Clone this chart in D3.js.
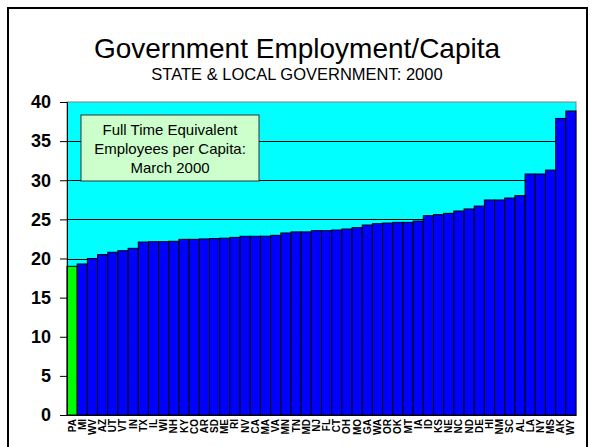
<!DOCTYPE html>
<html>
<head>
<meta charset="utf-8">
<script src="https://d3js.org/d3.v7.min.js"></script>
<style>
  body { margin: 0; background: #fff; }
  text { font-family: "Liberation Sans", Arial, sans-serif; }
</style>
</head>
<body>
<div id="chart"></div>
<script>
var states = ["PA","MI","WV","AZ","UT","VT","IN","TX","IL","WI","NH","KY","CO","AR","SD","ME",
    "RI","NV","CA","MA","VA","MN","TN","MD","NJ","FL","CT","OH","MO","GA","WA","OR","OK","MT",
    "IA","ID","KS","NE","NC","ND","DE","HI","NM","SC","AL","LA","NY","MS","AK","WY"];
var values = [19.0,19.3,20.0,20.5,20.8,21.0,21.3,22.1,22.15,22.15,22.2,22.45,22.45,22.5,22.55,22.6,
    22.7,22.84,22.84,22.85,22.96,23.26,23.4,23.4,23.56,23.56,23.64,23.77,23.94,24.28,24.45,24.53,24.62,24.62,
    24.79,25.47,25.6,25.77,26.07,26.33,26.7,27.48,27.48,27.73,28.03,30.8,30.8,31.3,37.9,38.85];
var yTicks = [0, 5, 10, 15, 20, 25, 30, 35, 40];
var highlight = "PA";
var noteLines = ["Full Time Equivalent", "Employees per Capita:", "March 2000"];

var W = 592, H = 447;
var margin = {top: 102, right: 16, bottom: 32, left: 67},
    width = W - margin.left - margin.right,
    height = H - margin.top - margin.bottom;

var svg = d3.select("#chart")
    .append("svg")
    .attr("width", W)
    .attr("height", H);

// outer frame
svg.append("rect")
    .attr("x", 8).attr("y", 8)
    .attr("width", 579).attr("height", 460)
    .attr("fill", "none")
    .attr("stroke", "#000")
    .attr("stroke-width", 2);

svg.append("text")
    .attr("x", 297).attr("y", 58)
    .attr("text-anchor", "middle")
    .style("font-size", "28px")
    .text("Government Employment/Capita");

svg.append("text")
    .attr("x", 297).attr("y", 80)
    .attr("text-anchor", "middle")
    .style("font-size", "16.5px")
    .text("STATE & LOCAL GOVERNMENT: 2000");

var g = svg.append("g")
    .attr("transform", "translate(" + margin.left + "," + margin.top + ")");

var x = d3.scaleBand()
    .domain(states)
    .range([0, width])
    .padding(0);

var y = d3.scaleLinear()
    .domain([0, 40])
    .range([height, 0]);

// plot background
g.append("rect")
    .attr("width", width)
    .attr("height", height)
    .attr("fill", "#00ffff")
    .attr("stroke", "#808080")
    .attr("stroke-width", 1);

// gridlines
g.append("g")
    .selectAll("line")
    .data(yTicks.filter(function (d) { return d > 0 && d < 40; }))
    .enter()
    .append("line")
    .attr("x1", 0).attr("x2", width)
    .attr("y1", function (d) { return Math.round(y(d)) + 0.5; })
    .attr("y2", function (d) { return Math.round(y(d)) + 0.5; })
    .attr("stroke", "#000")
    .attr("stroke-width", 1);

// bars
g.append("g")
    .selectAll("rect")
    .data(values)
    .enter()
    .append("rect")
    .attr("x", function (d, i) { return x(states[i]); })
    .attr("y", function (d) { return y(d); })
    .attr("width", x.bandwidth())
    .attr("height", function (d) { return height - y(d); })
    .attr("fill", function (d, i) { return states[i] === highlight ? "#00ff00" : "#0000ff"; })
    .attr("stroke", "#000")
    .attr("stroke-width", 1);

// y axis
var yAxis = g.append("g")
    .call(d3.axisLeft(y).tickValues(yTicks).tickSize(7).tickPadding(9));
yAxis.selectAll("text")
    .style("font-size", "18px")
    .style("font-weight", "bold")
    .style("font-family", "'Liberation Sans', Arial, sans-serif")
    .attr("fill", "#000");
yAxis.select(".domain").attr("stroke", "#000");

// x axis
var xAxis = g.append("g")
    .attr("transform", "translate(0," + height + ")")
    .call(d3.axisBottom(x).tickSize(0).tickPadding(0));
xAxis.select(".domain").attr("stroke", "#000");
xAxis.selectAll("text")
    .attr("transform", "rotate(-90)")
    .attr("x", -4)
    .attr("y", 0)
    .attr("dy", "0.35em")
    .attr("text-anchor", "end")
    .style("font-size", "10px")
    .style("font-weight", "bold")
    .style("font-family", "'Liberation Sans', Arial, sans-serif")
    .attr("fill", "#000");

// note box
var note = svg.append("g");
note.append("rect")
    .attr("x", 81).attr("y", 115)
    .attr("width", 178).attr("height", 66)
    .attr("fill", "#ccffcc")
    .attr("stroke", "#333")
    .attr("stroke-width", 1);
note.selectAll("text")
    .data(noteLines)
    .enter()
    .append("text")
    .attr("x", 170)
    .attr("y", function (d, i) { return 135 + i * 19; })
    .attr("text-anchor", "middle")
    .style("font-size", "15px")
    .text(function (d) { return d; });
</script>
</body>
</html>
